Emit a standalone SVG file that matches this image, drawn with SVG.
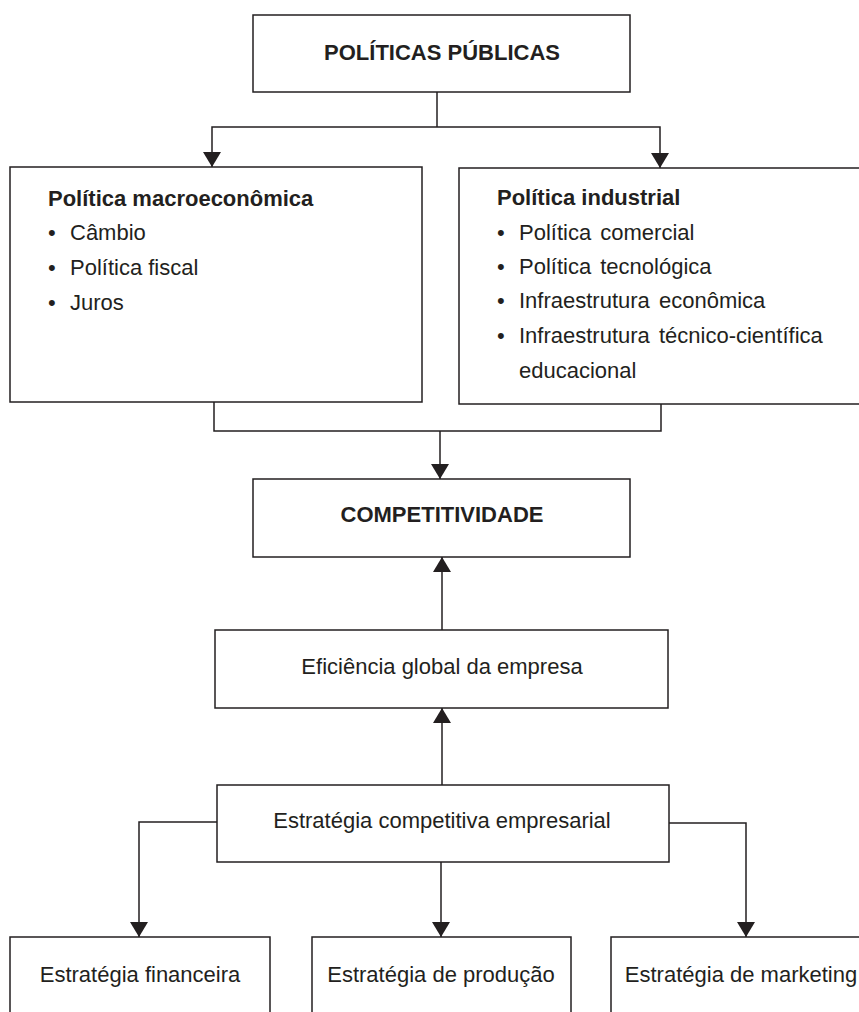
<svg xmlns="http://www.w3.org/2000/svg" width="859" height="1012" viewBox="0 0 859 1012">
  <style>
    .box { fill: #ffffff; stroke: #231f20; stroke-width: 1.5; }
    .conn { fill: none; stroke: #231f20; stroke-width: 1.5; }
    .t { font-family: "Liberation Sans", Arial, sans-serif; font-size: 22px; fill: #231f20; }
    .b { font-weight: bold; }
    .c { text-anchor: middle; }
  </style>
  <defs>
    <marker id="arr" viewBox="0 0 15 18" markerWidth="15" markerHeight="18" refX="15" refY="9" orient="auto" markerUnits="userSpaceOnUse">
      <path d="M0,0 L15,9 L0,18 Z" fill="#231f20"/>
    </marker>
  </defs>
  <rect x="0" y="0" width="859" height="1012" fill="#ffffff"/>

  <g id="connectors">
    <path class="conn" d="M437,92 V127"/>
    <path class="conn" d="M437,127 H212 V167" marker-end="url(#arr)"/>
    <path class="conn" d="M437,127 H660 V168" marker-end="url(#arr)"/>
    <path class="conn" d="M214,402 V431 H661 V404"/>
    <path class="conn" d="M440,431 V479" marker-end="url(#arr)"/>
    <path class="conn" d="M442,630 V557" marker-end="url(#arr)"/>
    <path class="conn" d="M442,785 V708" marker-end="url(#arr)"/>
    <path class="conn" d="M217,822 H139 V937" marker-end="url(#arr)"/>
    <path class="conn" d="M669,823 H746 V937" marker-end="url(#arr)"/>
    <path class="conn" d="M441,862 V937" marker-end="url(#arr)"/>
  </g>

  <g id="politicas-publicas">
    <rect class="box" x="253" y="15" width="377" height="77"/>
    <text class="t b c" x="442" y="60">POLÍTICAS PÚBLICAS</text>
  </g>

  <g id="politica-macroeconomica">
    <rect class="box" x="10" y="167" width="412" height="235"/>
    <text class="t b" x="48" y="206">Política macroeconômica</text>
    <text class="t" x="48" y="240">•</text><text class="t" x="70" y="240">Câmbio</text>
    <text class="t" x="48" y="275">•</text><text class="t" x="70" y="275">Política fiscal</text>
    <text class="t" x="48" y="310">•</text><text class="t" x="70" y="310">Juros</text>
  </g>

  <g id="politica-industrial">
    <rect class="box" x="459" y="168" width="420" height="236"/>
    <text class="t b" x="497" y="205">Política industrial</text>
    <text class="t" x="497" y="240">•</text><text class="t" x="519" y="240" word-spacing="3">Política comercial</text>
    <text class="t" x="497" y="274">•</text><text class="t" x="519" y="274" word-spacing="3">Política tecnológica</text>
    <text class="t" x="497" y="308">•</text><text class="t" x="519" y="308" word-spacing="3">Infraestrutura econômica</text>
    <text class="t" x="497" y="343">•</text><text class="t" x="519" y="343" word-spacing="3">Infraestrutura técnico-científica</text>
    <text class="t" x="519" y="378">educacional</text>
  </g>

  <g id="competitividade">
    <rect class="box" x="253" y="479" width="377" height="78"/>
    <text class="t b c" x="442" y="522">COMPETITIVIDADE</text>
  </g>

  <g id="eficiencia-global">
    <rect class="box" x="215" y="630" width="453" height="78"/>
    <text class="t c" x="442" y="674">Eficiência global da empresa</text>
  </g>

  <g id="estrategia-competitiva">
    <rect class="box" x="217" y="785" width="452" height="77"/>
    <text class="t c" x="442" y="828">Estratégia competitiva empresarial</text>
  </g>

  <g id="estrategia-financeira">
    <rect class="box" x="10" y="937" width="260" height="95"/>
    <text class="t c" x="140" y="982">Estratégia financeira</text>
  </g>

  <g id="estrategia-producao">
    <rect class="box" x="312" y="937" width="259" height="95"/>
    <text class="t c" x="441" y="982">Estratégia de produção</text>
  </g>

  <g id="estrategia-marketing">
    <rect class="box" x="611" y="937" width="260" height="95"/>
    <text class="t c" x="741" y="982">Estratégia de marketing</text>
  </g>
</svg>
